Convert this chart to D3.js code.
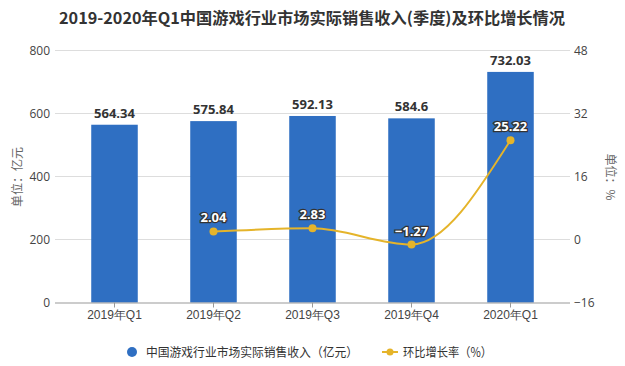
<!DOCTYPE html>
<html><head><meta charset="utf-8">
<script src="https://cdn.jsdelivr.net/npm/d3@7"></script>
<style>body{margin:0;background:#fff}svg{display:block;font-family:"Noto Sans CJK SC","Microsoft YaHei",sans-serif}</style>
</head><body><svg id="c" width="625" height="366"></svg>
<script>
const categories = ["2019年Q1","2019年Q2","2019年Q3","2019年Q4","2020年Q1"];
const revenue = [564.34, 575.84, 592.13, 584.6, 732.03];
const growth = [null, 2.04, 2.83, -1.27, 25.22];
const leftTicks = [0, 200, 400, 600, 800];
const rightTicks = [-16, 0, 16, 32, 48];
const title = "2019-2020年Q1中国游戏行业市场实际销售收入(季度)及环比增长情况";
const legendNames = ["中国游戏行业市场实际销售收入（亿元）", "环比增长率（%）"];

const svg = d3.select("#c");
const barColor = "#2F6FC2", lineColor = "#E5B42A";
const x = d3.scaleBand().domain(categories).range([65, 560]).paddingInner(0.53).paddingOuter(0.265);
const yL = d3.scaleLinear().domain([0, 800]).range([302.5, 50.5]);
const yR = d3.scaleLinear().domain([-16, 48]).range([302.5, 50.5]);

svg.append("text").attr("x", 312).attr("y", 24).attr("text-anchor", "middle")
  .attr("font-size", 16).attr("font-weight", "bold").attr("fill", "#333")
  .attr("textLength", 506).attr("lengthAdjust", "spacingAndGlyphs").text(title);

// grid
svg.append("g").selectAll("line").data(leftTicks.slice(1)).join("line")
  .attr("x1", 55).attr("x2", 570).attr("y1", d => yL(d)).attr("y2", d => yL(d))
  .attr("stroke", "#ddd").attr("stroke-width", 1);

// left axis
const gl = svg.append("g").attr("transform", "translate(55,0)")
  .call(d3.axisLeft(yL).tickValues(leftTicks).tickSize(0).tickPadding(5));
gl.select(".domain").remove();
gl.selectAll("text").attr("font-size", 12).attr("fill", "#444").attr("font-family", "'Open Sans',sans-serif");

const gr = svg.append("g").attr("transform", "translate(570,0)")
  .call(d3.axisRight(yR).tickValues(rightTicks).tickSize(0).tickPadding(4));
gr.select(".domain").remove();
gr.selectAll("text").attr("font-size", 12).attr("fill", "#444").attr("font-family", "'Open Sans',sans-serif");

// bars
svg.append("g").selectAll("rect").data(revenue).join("rect")
  .attr("x", (d, i) => x(categories[i])).attr("width", x.bandwidth())
  .attr("y", d => yL(d)).attr("height", d => yL(0) - yL(d)).attr("fill", barColor);

// x axis
const gx = svg.append("g").attr("transform", `translate(0,${yL(0)})`)
  .call(d3.axisBottom(x).tickSize(5).tickPadding(3).tickSizeOuter(0));
gx.select(".domain").attr("stroke", "#999").attr("d", "M55,0.5H570");
gx.selectAll(".tick line").attr("stroke", "#999");
gx.selectAll("text").attr("font-size", 12).attr("fill", "#444");

// bar labels
svg.append("g").selectAll("text").data(revenue).join("text")
  .attr("x", (d, i) => x(categories[i]) + x.bandwidth() / 2).attr("y", d => yL(d) - 7)
  .attr("text-anchor", "middle").attr("font-size", 13).attr("font-weight", "bold")
  .attr("fill", "#333").attr("font-family", "'Open Sans',sans-serif").text(d => d);

// line
const pts = growth.map((v, i) => ({v, c: categories[i]})).filter(d => d.v !== null);
const cx = d => x(d.c) + x.bandwidth() / 2;
svg.append("path").datum(pts)
  .attr("d", d3.line().x(cx).y(d => yR(d.v)).curve(d3.curveMonotoneX))
  .attr("fill", "none").attr("stroke", lineColor).attr("stroke-width", 2);
svg.append("g").selectAll("circle").data(pts).join("circle")
  .attr("cx", cx).attr("cy", d => yR(d.v)).attr("r", 4).attr("fill", lineColor);
svg.append("g").selectAll("text").data(pts).join("text")
  .attr("x", cx).attr("y", d => yR(d.v) - 9).attr("text-anchor", "middle")
  .attr("font-size", 13).attr("font-weight", "bold").attr("fill", "#fff")
  .attr("stroke", "#333").attr("stroke-width", 2.5).attr("paint-order", "stroke")
  .attr("font-family", "'Open Sans',sans-serif")
  .text(d => d.v < 0 ? "−" + Math.abs(d.v) : d.v);

// axis titles
svg.append("text").attr("transform", "translate(22,177) rotate(-90)").attr("text-anchor", "middle")
  .attr("font-size", 12).attr("fill", "#666").text("单位：亿元");
svg.append("text").attr("transform", "translate(606,177) rotate(90)").attr("text-anchor", "middle")
  .attr("font-size", 12).attr("fill", "#666").text("单位：%");

// legend
const lg = svg.append("g");
lg.append("circle").attr("cx", 132).attr("cy", 352).attr("r", 5).attr("fill", barColor);
lg.append("text").attr("x", 146).attr("y", 356.5).attr("font-size", 12.5).attr("fill", "#333")
  .attr("textLength", 212).attr("lengthAdjust", "spacingAndGlyphs").text(legendNames[0]);
lg.append("line").attr("x1", 382).attr("x2", 398).attr("y1", 352).attr("y2", 352)
  .attr("stroke", lineColor).attr("stroke-width", 2);
lg.append("circle").attr("cx", 390).attr("cy", 352).attr("r", 3.5).attr("fill", lineColor);
lg.append("text").attr("x", 403).attr("y", 356.5).attr("font-size", 12.5).attr("fill", "#333")
  .attr("textLength", 89).attr("lengthAdjust", "spacingAndGlyphs").text(legendNames[1]);
</script></body></html>
